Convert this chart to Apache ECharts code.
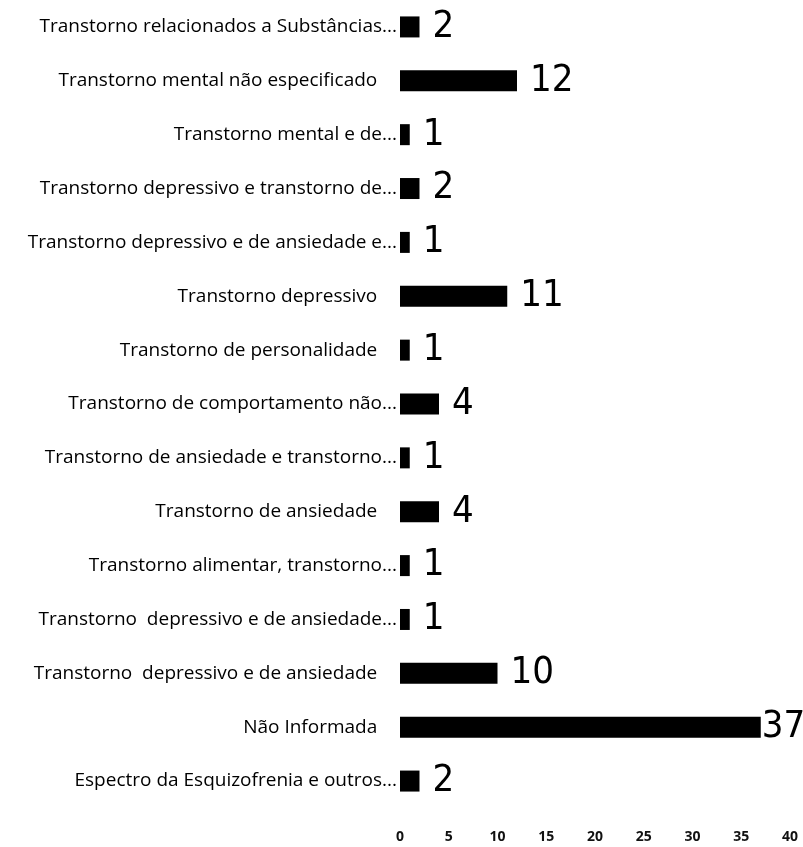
<!DOCTYPE html>
<html>
<head>
<meta charset="utf-8">
<script src="https://cdn.jsdelivr.net/npm/echarts@6/dist/echarts.min.js"></script>
<style>
  html, body { margin: 0; padding: 0; background: #fff; }
  #main { width: 803px; height: 847px; }
</style>
</head>
<body>
<div id="main"></div>
<script>
// categorias de baixo para cima
const categorias = [
  'Espectro da Esquizofrenia e outros...',
  'Não Informada',
  'Transtorno  depressivo e de ansiedade',
  'Transtorno  depressivo e de ansiedade...',
  'Transtorno alimentar, transtorno...',
  'Transtorno de ansiedade',
  'Transtorno de ansiedade e transtorno...',
  'Transtorno de comportamento não...',
  'Transtorno de personalidade',
  'Transtorno depressivo',
  'Transtorno depressivo e de ansiedade e...',
  'Transtorno depressivo e transtorno de...',
  'Transtorno mental e de...',
  'Transtorno mental não especificado',
  'Transtorno relacionados a Substâncias...'
];
const valores = [2, 37, 10, 1, 1, 4, 1, 4, 1, 11, 1, 2, 1, 12, 2];
const ticksX = [0, 5, 10, 15, 20, 25, 30, 35, 40];

const chart = echarts.init(document.getElementById('main'));
chart.setOption({
  animation: false,
  grid: { left: 400, right: 13, top: -5, bottom: 39 },
  xAxis: {
    type: 'value',
    min: ticksX[0],
    max: ticksX[ticksX.length - 1],
    interval: 5,
    axisLine: { show: false },
    axisTick: { show: false },
    splitLine: { show: false },
    axisLabel: {
      margin: 22,
      color: '#111',
      fontSize: 14,
      fontWeight: 'bold',
      fontFamily: 'Open Sans'
    }
  },
  yAxis: {
    type: 'category',
    data: categorias,
    axisLine: { show: false },
    axisTick: { show: false },
    axisLabel: {
      margin: 3,
      color: '#000',
      fontSize: 19,
      fontWeight: 500,
      fontFamily: 'Open Sans',
      formatter: v => v.endsWith('...') ? v : v + '    '
    }
  },
  series: [{
    type: 'bar',
    // o rótulo do 37 fica encostado na barra
    data: valores.map(v => v === 37 ? { value: v, label: { distance: 1 } } : v),
    barWidth: 21,
    itemStyle: { color: '#000' },
    label: {
      show: true,
      position: 'right',
      distance: 13,
      color: '#000',
      fontSize: 38,
      fontFamily: '"DejaVu Sans Condensed", sans-serif'
    }
  }]
});
</script>
</body>
</html>
